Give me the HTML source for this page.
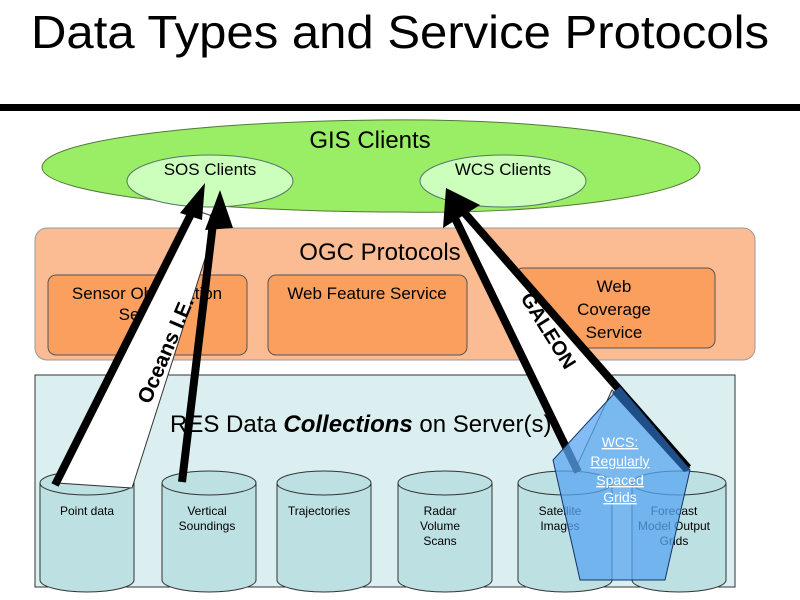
<!DOCTYPE html>
<html><head><style>
html,body{margin:0;padding:0;background:#fff;}
svg{display:block;font-family:"Liberation Sans",sans-serif;}
</style></head><body>
<svg width="800" height="600" viewBox="0 0 800 600" xmlns="http://www.w3.org/2000/svg">
<text x="31" y="48" font-size="46" textLength="738" lengthAdjust="spacingAndGlyphs" fill="#000">Data Types and Service Protocols</text>
<rect x="0" y="104" width="800" height="7" fill="#000"/>
<!-- green ellipse -->
<path d="M42,168 C40,140 200,122 380,120 C560,118 700,140 700,168 C700,195 540,215 400,212 C220,212 45,195 42,168 Z" fill="#99ee66" stroke="#557733" stroke-width="1"/>
<text x="370" y="148" font-size="24" text-anchor="middle">GIS Clients</text>
<ellipse cx="210" cy="181" rx="83" ry="26" fill="#ccffbb" stroke="#557766" stroke-width="1"/>
<text x="210" y="175" font-size="17" text-anchor="middle">SOS Clients</text>
<ellipse cx="503" cy="181" rx="83" ry="26" fill="#ccffbb" stroke="#557766" stroke-width="1"/>
<text x="503" y="175" font-size="17" text-anchor="middle">WCS Clients</text>
<!-- orange -->
<rect x="35" y="228" width="720" height="132" rx="12" fill="#fbbc94" stroke="#999" stroke-width="1"/>
<text x="380" y="260" font-size="24" text-anchor="middle">OGC Protocols</text>
<rect x="48" y="275" width="199" height="80" rx="8" fill="#fb9f5f" stroke="#555" stroke-width="1"/>
<text x="147" y="299" font-size="17" text-anchor="middle">Sensor Observation</text>
<text x="147" y="320" font-size="17" text-anchor="middle">Service</text>
<rect x="268" y="275" width="199" height="80" rx="8" fill="#fb9f5f" stroke="#555" stroke-width="1"/>
<text x="367" y="299" font-size="17" text-anchor="middle">Web Feature Service</text>
<rect x="515" y="268" width="200" height="80" rx="8" fill="#fb9f5f" stroke="#555" stroke-width="1"/>
<text x="614" y="292" font-size="17" text-anchor="middle">Web</text>
<text x="614" y="315" font-size="17" text-anchor="middle">Coverage</text>
<text x="614" y="338" font-size="17" text-anchor="middle">Service</text>
<!-- blue panel -->
<rect x="35" y="375" width="700" height="212" fill="#dbeef0" stroke="#333" stroke-width="1"/>
<text x="170" y="432" font-size="24">RES Data <tspan font-weight="bold" font-style="italic">Collections</tspan> on Server(s)</text>
<!-- cylinders -->
<g fill="#bde0e2" stroke="#333" stroke-width="1">
<path d="M40,483 V580 A47,12 0 0 0 134,580 V483"/><ellipse cx="87" cy="483" rx="47" ry="12"/>
<path d="M162,483 V580 A47,12 0 0 0 256,580 V483"/><ellipse cx="209" cy="483" rx="47" ry="12"/>
<path d="M277,483 V580 A47,12 0 0 0 371,580 V483"/><ellipse cx="324" cy="483" rx="47" ry="12"/>
<path d="M398,483 V580 A47,12 0 0 0 492,580 V483"/><ellipse cx="445" cy="483" rx="47" ry="12"/>
<path d="M518,483 V580 A47,12 0 0 0 612,580 V483"/><ellipse cx="565" cy="483" rx="47" ry="12"/>
<path d="M632,483 V580 A47,12 0 0 0 726,580 V483"/><ellipse cx="679" cy="483" rx="47" ry="12"/>
</g>
<g font-size="12" text-anchor="middle">
<text x="87" y="515">Point data</text>
<text x="207" y="515">Vertical</text><text x="207" y="530">Soundings</text>
<text x="319" y="515">Trajectories</text>
<text x="440" y="515">Radar</text><text x="440" y="530">Volume</text><text x="440" y="545">Scans</text>
<text x="560" y="515">Satellite</text><text x="560" y="530">Images</text>
<text x="674" y="515">Forecast</text><text x="674" y="530">Model Output</text><text x="674" y="545">Grids</text>
</g>
<!-- Oceans IE band -->
<polygon points="57,483 195,210 218,218 132,488" fill="#fff" stroke="#333" stroke-width="1"/>
<line x1="55" y1="485" x2="192" y2="212" stroke="#000" stroke-width="8"/>
<polygon points="205,183 180,213 202,220" fill="#000"/>
<line x1="182" y1="482" x2="214" y2="215" stroke="#000" stroke-width="8"/>
<polygon points="220,190 205,230 233,228" fill="#000"/>
<text transform="translate(150,405) rotate(-67)" font-size="21" font-weight="bold">Oceans I.E.</text>
<!-- GALEON band -->
<polygon points="460,210 690,468 612,390 575,470 452,215" fill="#fff" stroke="#333" stroke-width="1"/>
<line x1="578" y1="472" x2="452" y2="212" stroke="#000" stroke-width="8"/>
<line x1="688" y1="468" x2="462" y2="210" stroke="#000" stroke-width="8"/>
<polygon points="446,188 443,228 480,205" fill="#000"/>
<text transform="translate(520,298) rotate(58)" font-size="20" font-weight="bold">GALEON</text>
<!-- pentagon -->
<polygon points="620,387 690,470 665,580 580,580 553,460" fill="#5aa6f0" fill-opacity="0.75" stroke="#113366" stroke-width="1"/>
<polygon points="620,387 690,470 684,472 612,393" fill="#1f4f88"/>
<g font-size="14" text-anchor="middle" fill="#fff" text-decoration="underline">
<text x="620" y="447">WCS:</text><text x="620" y="466">Regularly</text><text x="620" y="485">Spaced</text><text x="620" y="502">Grids</text>
</g>
</svg>
</body></html>
